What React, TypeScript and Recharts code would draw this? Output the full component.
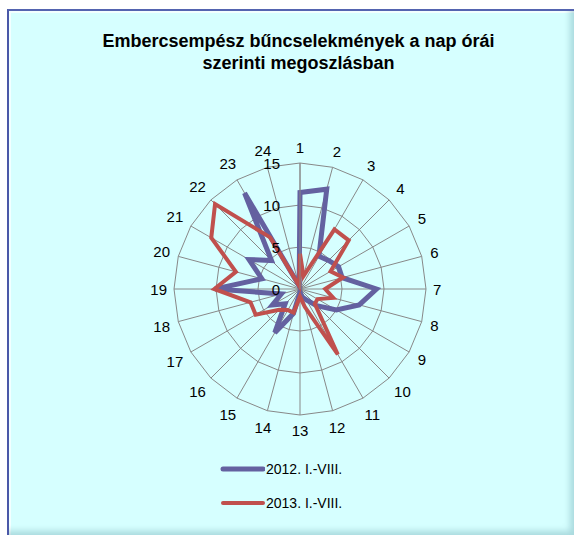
import React from 'react';
import { RadarChart, Radar, PolarGrid, PolarAngleAxis, PolarRadiusAxis, Legend } from 'recharts';

const hours = ['1', '2', '3', '4', '5', '6', '7', '8', '9', '10', '11', '12', '13', '14', '15', '16', '17', '18', '19', '20', '21', '22', '23', '24'];
const series2012 = [11.5, 12.3, 4.5, 4.8, 5.3, 5.2, 9.1, 7.3, 5.0, 2.8, 1.5, 1.0, 0.4, 3.0, 6.0, 2.5, 3.8, 2.3, 10.1, 4.7, 7.0, 4.8, 13.2, 0.4];
const series2013 = [4.2, 1.6, 8.2, 8.2, 4.2, 5.3, 3.0, 4.1, 2.4, 2.5, 9.0, 2.2, 0.9, 2.9, 2.9, 3.5, 6.1, 6.1, 10.2, 7.9, 12.2, 14.3, 7.1, 0.4];
const radiusTicks = [0, 5, 10, 15];
const seriesNames = ['2012. I.-VIII.', '2013. I.-VIII.'];
const titleLines = ['Embercsempész bűncselekmények a nap órái', 'szerinti megoszlásban'];

const data = hours.map((h, i) => ({ hour: h, y2012: series2012[i], y2013: series2013[i] }));

const CX = 300;
const CY = 289;
const R = 126;
const FONT = '"Liberation Sans", Arial, sans-serif';
const BLUE = '#6461A0';
const RED = '#C0504D';

function AngleTick(props: any) {
  const { x, y, payload } = props;
  const cx = typeof props.cx === 'number' ? props.cx : CX;
  const cy = typeof props.cy === 'number' ? props.cy : CY;
  const dx = x - cx;
  const dy = y - cy;
  const d = Math.hypot(dx, dy) || 1;
  const ux = dx / d;
  const uy = dy / d;
  const label = String(payload.value);
  const w = label.length * 8.3;
  const rc = R + 7 + Math.abs(ux) * w / 2 + Math.abs(uy) * 8.5;
  return (
    <text x={cx + ux * rc} y={cy + uy * rc} textAnchor="middle" dominantBaseline="central" fontSize={15} fill="#000" fontFamily={FONT}>
      {label}
    </text>
  );
}

function RadiusTick(props: any) {
  const { x, y, payload } = props;
  return (
    <text x={x - 20} y={y} textAnchor="end" dominantBaseline="central" fontSize={15} fill="#000" fontFamily={FONT}>
      {payload.value}
    </text>
  );
}

function LegendContent(props: any) {
  const payload = props.payload || [];
  return (
    <div style={{ fontFamily: FONT }}>
      {payload.map((entry: any, i: number) => (
        <div key={i} style={{ display: 'flex', alignItems: 'center', height: 34 }}>
          <svg width={45} height={10} style={{ display: 'block' }}>
            <line x1={3} y1={5} x2={43} y2={5} stroke={entry.color} strokeWidth={i === 0 ? 5 : 4} strokeLinecap="round" />
          </svg>
          <span style={{ fontSize: 14, color: '#000', marginLeft: 1 }}>{entry.value}</span>
        </div>
      ))}
    </div>
  );
}

export default function App() {
  return (
    <div style={{ position: 'absolute', left: 0, top: 0, width: 574, height: 535, overflow: 'hidden' }}>
      <div
        style={{
          position: 'absolute',
          left: 7,
          top: 9,
          width: 567,
          height: 526,
          boxSizing: 'border-box',
          background: '#D6FFFF',
          borderTop: '2px solid #5464B0',
          borderLeft: '2px solid #4A58A8',
          boxShadow: 'inset -7px -7px 6px -3px rgba(90,150,160,0.35), inset 2px 2px 0 #F2FFFF',
        }}
      />
      <div
        style={{
          position: 'absolute',
          left: 0,
          top: 30,
          width: 597,
          textAlign: 'center',
          fontFamily: FONT,
          fontWeight: 'bold',
          fontSize: 18,
          lineHeight: '22px',
          color: '#000',
        }}
      >
        {titleLines.map((t, i) => (
          <div key={i}>{t}</div>
        ))}
      </div>
      <div style={{ position: 'absolute', left: 0, top: 0 }}>
        <RadarChart
          width={574}
          height={535}
          data={data}
          cx={CX}
          cy={CY}
          outerRadius={R}
          startAngle={90}
          endAngle={-270}
          margin={{ top: 0, right: 0, bottom: 0, left: 0 }}
        >
          <PolarGrid gridType="polygon" stroke="#888888" strokeWidth={1} />
          <PolarAngleAxis dataKey="hour" tick={<AngleTick />} tickLine={false} axisLine={false} />
          <PolarRadiusAxis
            angle={90}
            domain={[0, 15]}
            ticks={radiusTicks as any}
            tickCount={4}
            tick={<RadiusTick />}
            axisLine={{ stroke: '#888888' }}
            tickLine={false}
          />
          <Radar
            name={seriesNames[0]}
            dataKey="y2012"
            stroke={BLUE}
            strokeWidth={5}
            fill="none"
            fillOpacity={0}
            dot={false}
            isAnimationActive={false}
          />
          <Radar
            name={seriesNames[1]}
            dataKey="y2013"
            stroke={RED}
            strokeWidth={4}
            fill="none"
            fillOpacity={0}
            dot={false}
            isAnimationActive={false}
          />
          <Legend
            layout="vertical"
            content={<LegendContent />}
            wrapperStyle={{ position: 'absolute', left: 220, top: 452, width: 200, height: 70 }}
          />
        </RadarChart>
      </div>
    </div>
  );
}
